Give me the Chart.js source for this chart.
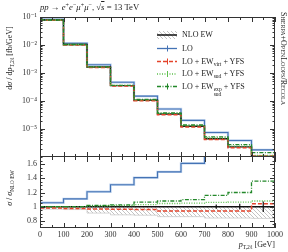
<!DOCTYPE html>
<html><head><meta charset="utf-8">
<script src="https://cdn.jsdelivr.net/npm/chart.js@4.4.1/dist/chart.umd.min.js"></script>
<style>
html,body{margin:0;padding:0;background:#fff;}
#wrap{position:relative;width:288px;height:252px;overflow:hidden;font-family:"Liberation Serif","DejaVu Serif",serif;color:#222;}
canvas{position:absolute;left:0;top:0;}
.t{position:absolute;white-space:nowrap;font-size:8px;line-height:10px;}
.sub{font-size:70%;vertical-align:-0.3em;line-height:0;}
.sup{font-size:70%;vertical-align:0.55em;line-height:0;}
.ss{display:inline-flex;flex-direction:column;font-size:5.6px;line-height:5px;vertical-align:-2.5px;}
.rot{position:absolute;white-space:nowrap;font-size:8px;line-height:10px;transform:translate(-50%,-50%) rotate(-90deg);}
</style></head><body>
<div id="wrap">
<canvas id="cTop" width="288" height="252"></canvas>
<canvas id="cBot" width="288" height="252"></canvas>
<div class="t" style="left:40px;top:2px;font-size:8.7px;"><i>pp</i> → <i>e</i><span class="sup">+</span><i>e</i><span class="sup">−</span><i>μ</i><span class="sup">+</span><i>μ</i><span class="sup">−</span>, √<span style="text-decoration:overline"><i>s</i></span> = 13 TeV</div>
<div class="rot" style="left:10px;top:58px;">d<i>σ</i> / d<i>p</i><span class="sub">T,2ℓ</span> [fb/GeV]</div>
<div class="rot" style="left:10px;top:188px;"><i>σ</i> / <i>σ</i><span class="sub">NLO EW</span></div>
<div class="t" style="right:13px;top:240px;"><i>p</i><span class="sub">T,2ℓ</span> [GeV]</div>
<div class="t" style="left:182px;top:30px;">NLO EW</div>
<div class="t" style="left:182px;top:43.5px;">LO</div>
<div class="t" style="left:182px;top:56.5px;">LO + EW<span class="sub">virt</span> + YFS</div>
<div class="t" style="left:182px;top:69px;">LO + EW<span class="sub">sud</span> + YFS</div>
<div class="t" style="left:182px;top:81.5px;">LO + EW<span class="ss"><span>exp</span><span>sud</span></span> + YFS</div>
<div class="t" style="left:279px;top:12px;writing-mode:vertical-rl;font-variant:small-caps;font-size:8px;line-height:9px;">Sherpa+OpenLoops/Recola</div>
</div>
<script>
// ---- data ----
const binEdges = [0,100,200,300,400,500,600,700,800,900,1000];
// top panel: dsigma/dpT [fb/GeV]
const nloEW      = [0.078, 0.0104, 0.00163, 3.55e-4, 1.06e-4, 3.45e-5, 1.26e-5, 4.5e-6, 2.3e-6, 1.05e-6];
const lo         = [0.0823, 0.0115, 0.00197, 4.65e-4, 1.49e-4, 5.15e-5, 2.03e-5, 7.5e-6, 3.9e-6, 1.8e-6];
const loEWvirt   = [0.0766, 0.0101, 0.00158, 3.43e-4, 1.02e-4, 3.24e-5, 1.18e-5, 4.23e-6, 2.16e-6, 1.09e-6];
const loEWsud    = [0.078, 0.0104, 0.00165, 3.6e-4, 1.09e-4, 3.6e-5, 1.32e-5, 4.77e-6, 2.45e-6, 1.13e-6];
const loEWsudExp = [0.078, 0.0104, 0.00166, 3.64e-4, 1.13e-4, 3.73e-5, 1.39e-5, 5.22e-6, 2.76e-6, 1.43e-6];
// bottom panel: ratio to NLO EW
const ratioNLO    = [1, 1, 1, 1, 1, 1, 1, 1, 1, 1];
const ratioLO     = [1.055, 1.11, 1.21, 1.31, 1.41, 1.49, 1.61, 1.72, 1.76, 1.8];
const ratioVirt   = [0.982, 0.975, 0.968, 0.965, 0.962, 0.94, 0.94, 0.94, 0.94, 1.04];
const ratioSud    = [1.0, 1.0, 1.01, 1.015, 1.03, 1.045, 1.05, 1.06, 1.065, 1.08];
const ratioSudExp = [1.0, 1.0, 1.02, 1.025, 1.065, 1.08, 1.1, 1.16, 1.2, 1.36];
const nloBandLow  = [0.965, 0.96, 0.91, 0.885, 0.88, 0.86, 0.86, 0.84, 0.84, 0.835];
const errCenters  = [750, 850, 950];
const errHalf     = [0.03, 0.04, 0.075];
// ticks
const topTickValues = [1e-1, 1e-2, 1e-3, 1e-4, 1e-5];
const topTickLabels = ['10⁻¹','10⁻²','10⁻³','10⁻⁴','10⁻⁵'];
const ratioTickValues = [0.8, 1, 1.2, 1.4, 1.6];
const ratioTickLabels = ['0.8','1','1.2','1.4','1.6'];
const xTickValues = [0,100,200,300,400,500,600,700,800,900,1000];
const xTickLabels = ['0','100','200','300','400','500','600','700','800','900','1000'];
const xMinorTicks = [50,150,250,350,450,550,650,750,850,950];

const FONT = {family:'"Liberation Serif", "DejaVu Serif", serif', size:8};
const C = {nlo:'#111111', lo:'#4473b5', loHalo:'#c0d4ee', virt:'#e4432b', sud:'#5cbf4c', sudExp:'#23882a', hatch:'#9a9a9a'};

function steps(vals){ return binEdges.map((x,i)=>({x:x, y:vals[Math.min(i, vals.length-1)]})); }
function hatchPattern(ctx){
  const c=document.createElement('canvas'); c.width=4; c.height=4;
  const g=c.getContext('2d'); g.strokeStyle=C.hatch; g.lineWidth=0.6;
  g.beginPath(); g.moveTo(0,0); g.lineTo(4,4); g.moveTo(-1,3); g.lineTo(1,5); g.moveTo(3,-1); g.lineTo(5,1); g.stroke();
  return ctx.createPattern(c,'repeat');
}
function line(ctx,x1,y1,x2,y2){ctx.beginPath();ctx.moveTo(x1,y1);ctx.lineTo(x2,y2);ctx.stroke();}

const framePlugin = {
  id:'frame',
  afterDatasetsDraw(chart){
    const o = chart.options.plugins.frame || {};
    const {ctx, chartArea:a, scales} = chart;
    const xs=scales.x, ys=scales.y;
    ctx.save(); ctx.strokeStyle='#333'; ctx.lineWidth=1;
    const L=a.left+0.5, R=a.right-0.5, T=a.top+0.5, B=a.bottom-0.5;
    line(ctx,L,a.top,L,a.bottom); line(ctx,R,a.top,R,a.bottom);
    if(!o.noTopEdge) line(ctx,a.left,T,a.right,T);
    line(ctx,a.left,B,a.right,B);
    const xt=(v,len)=>{const p=Math.round(xs.getPixelForValue(v))+0.5; line(ctx,p,a.top,p,a.top+len); line(ctx,p,a.bottom,p,a.bottom-len);};
    xTickValues.forEach(v=>xt(v,5)); xMinorTicks.forEach(v=>xt(v,3));
    const yt=(v,len)=>{const p=Math.round(ys.getPixelForValue(v))+0.5; if(p<a.top||p>a.bottom) return; line(ctx,a.left,p,a.left+len,p); line(ctx,a.right,p,a.right-len,p);};
    if(o.log){
      for(let e=-6;e<=-1;e++){ yt(Math.pow(10,e),5); if(e<-1) for(let k=2;k<=9;k++) yt(k*Math.pow(10,e),2.5); }
    } else {
      ratioTickValues.forEach(v=>yt(v,5));
      for(let i=0;i<=20;i++){ const v=0.7+i*0.05; if(!ratioTickValues.some(t=>Math.abs(t-v)<1e-6)) yt(v,2.5); }
    }
    ctx.restore();
  }
};

const legendPlugin = {
  id:'legsym',
  afterDraw(chart){
    const ctx=chart.ctx; ctx.save();
    const x1=157, x2=177, xm=167;
    ctx.fillStyle=hatchPattern(ctx); ctx.fillRect(x1,31,x2-x1,8);
    ctx.strokeStyle=C.nlo; ctx.lineWidth=1.5; line(ctx,x1,35,x2,35);
    const rows=[{y:48.5,c:C.lo,d:[]},{y:61.5,c:C.virt,d:[4,2]},{y:74,c:C.sud,d:[1,1.5]},{y:86.5,c:C.sudExp,d:[4,1.5,1,1.5]}];
    rows.forEach(r=>{ctx.strokeStyle=r.c; ctx.lineWidth=1.3; ctx.setLineDash(r.d); line(ctx,x1,r.y,x2,r.y); ctx.setLineDash([]); ctx.lineWidth=1; line(ctx,xm+0.5,r.y-3,xm+0.5,r.y+3);});
    ctx.restore();
  }
};

const base = {pointRadius:0, stepped:true, fill:false, tension:0};
function ds(data,color,w,dash,extra){return Object.assign({}, base, {data:data, borderColor:color, borderWidth:w, borderDash:dash||[]}, extra||{});}

const topCtx = document.getElementById('cTop').getContext('2d');
new Chart(topCtx, {
  type:'line',
  data:{datasets:[
    ds(steps(loEWsudExp), C.sudExp, 1.3, [4,1.5,1,1.5]),
    ds(steps(loEWsud), C.sud, 1.3, [1,1.5]),
    ds(steps(loEWvirt), C.virt, 1.5, [4,2]),
    ds(steps(nloEW), C.nlo, 1.4),
    ds(steps(lo), C.lo, 1.1),
    ds(steps(lo), C.loHalo, 2.4)
  ]},
  options:{
    responsive:false, animation:false, devicePixelRatio:1,
    layout:{padding:{left:0,right:13,top:17,bottom:95}},
    plugins:{legend:{display:false}, tooltip:{enabled:false}, frame:{log:true}},
    scales:{
      x:{type:'linear', min:0, max:1000, display:false},
      y:{type:'logarithmic', min:1e-6, max:1e-1,
         afterFit(s){s.width=40;},
         afterBuildTicks(s){s.ticks=topTickValues.map(v=>({value:v}));},
         ticks:{autoSkip:false, padding:3, color:'#333', font:FONT,
           callback(v){const i=topTickValues.findIndex(t=>Math.abs(Math.log10(t)-Math.log10(v))<1e-6); return i>=0?topTickLabels[i]:'';}},
         grid:{display:false, drawTicks:false}, border:{display:false}}
    }
  },
  plugins:[framePlugin, legendPlugin]
});

const botCtx = document.getElementById('cBot').getContext('2d');
const errData = [];
errCenters.forEach((x,i)=>{ errData.push({x:x,y:1-errHalf[i]}); errData.push({x:x,y:1+errHalf[i]}); errData.push({x:x,y:null}); });
new Chart(botCtx, {
  type:'line',
  data:{datasets:[
    {data:errData, borderColor:C.nlo, borderWidth:1.2, pointRadius:0, spanGaps:false, stepped:false},
    ds(steps(ratioSudExp), C.sudExp, 1.3, [4,1.5,1,1.5]),
    ds(steps(ratioSud), C.sud, 1.3, [1,1.5]),
    ds(steps(ratioVirt), C.virt, 1.5, [4,2]),
    ds(steps(ratioNLO), C.nlo, 1.4),
    ds(steps(ratioLO), C.lo, 1.1),
    ds(steps(ratioLO), C.loHalo, 2.4),
    ds(steps(nloBandLow), '#cccccc', 0.8, [], {fill:4, backgroundColor:hatchPattern(botCtx)})
  ]},
  options:{
    responsive:false, animation:false, devicePixelRatio:1,
    layout:{padding:{left:0,right:13,top:157,bottom:10}},
    plugins:{legend:{display:false}, tooltip:{enabled:false}, frame:{log:false, noTopEdge:true}, filler:{propagate:false}},
    scales:{
      x:{type:'linear', min:0, max:1000,
         afterFit(s){s.height=14;},
         afterBuildTicks(s){s.ticks=xTickValues.map(v=>({value:v}));},
         ticks:{autoSkip:false, maxRotation:0, padding:2, color:'#333', font:FONT,
           callback(v){const i=xTickValues.indexOf(v); return i>=0?xTickLabels[i]:'';}},
         grid:{display:false, drawTicks:false}, border:{display:false}},
      y:{type:'linear', min:0.7, max:1.7,
         afterFit(s){s.width=40;},
         afterBuildTicks(s){s.ticks=ratioTickValues.map(v=>({value:v}));},
         ticks:{autoSkip:false, padding:3, color:'#333', font:FONT,
           callback(v){const i=ratioTickValues.findIndex(t=>Math.abs(t-v)<1e-6); return i>=0?ratioTickLabels[i]:'';}},
         grid:{display:false, drawTicks:false}, border:{display:false}}
    }
  },
  plugins:[framePlugin]
});
</script>
</body></html>
